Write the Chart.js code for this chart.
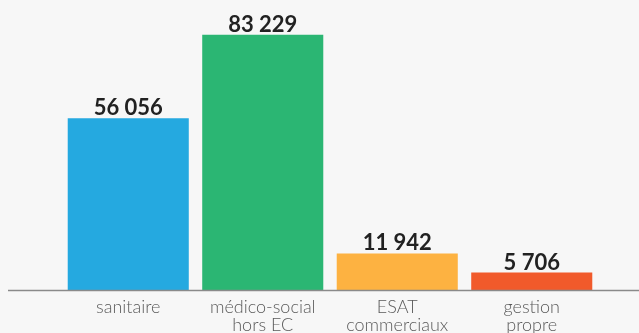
<!DOCTYPE html>
<html>
<head>
<meta charset="utf-8">
<script src="https://cdn.jsdelivr.net/npm/chart.js@4"></script>
<style>
  html, body { margin: 0; padding: 0; background: #f7f7f7; }
  #wrap { width: 639px; height: 333px; position: relative; }
</style>
</head>
<body>
<div id="wrap"><canvas id="chart"></canvas></div>
<script>
// chart data
const categories = [["sanitaire"], ["médico-social", "hors EC"], ["ESAT", "commerciaux"], ["gestion", "propre"]];
const values = [56056, 83229, 11942, 5706];
const barColors = ["#25a9e0", "#2bb673", "#fdb241", "#f15a2b"];

// format 83229 -> "83 229"
function frNumber(n) {
  return String(n).replace(/\B(?=(\d{3})+(?!\d))/g, " ");
}

// draws the value above each bar
const valueLabels = {
  id: "valueLabels",
  afterDatasetsDraw(chart) {
    const ctx = chart.ctx;
    const meta = chart.getDatasetMeta(0);
    ctx.save();
    ctx.font = "bold 22px Lato";
    ctx.fillStyle = "#222222";
    ctx.textAlign = "center";
    ctx.textBaseline = "alphabetic";
    meta.data.forEach((bar, i) => {
      ctx.fillText(frNumber(values[i]), bar.x, bar.y - 3);
    });
    ctx.restore();
  }
};

// baseline running almost the full width
const baseLine = {
  id: "baseLine",
  afterDatasetsDraw(chart) {
    const ctx = chart.ctx;
    const y = Math.round(chart.scales.y.getPixelForValue(0)) + 0.5;
    ctx.save();
    ctx.strokeStyle = "#8a8a8a";
    ctx.lineWidth = 1.5;
    ctx.beginPath();
    ctx.moveTo(8, y);
    ctx.lineTo(chart.width, y);
    ctx.stroke();
    ctx.restore();
  }
};

const ctx = document.getElementById("chart").getContext("2d");
new Chart(ctx, {
  type: "bar",
  data: {
    labels: categories,
    datasets: [{
      data: values,
      backgroundColor: barColors,
      borderWidth: 0,
      barPercentage: 0.9,
      categoryPercentage: 1.0
    }]
  },
  options: {
    responsive: true,
    maintainAspectRatio: false,
    animation: false,
    layout: { padding: { left: 61, right: 40, top: 0, bottom: -9 } },
    plugins: { legend: { display: false }, tooltip: { enabled: false } },
    scales: {
      x: {
        grid: { display: false, drawTicks: false },
        border: { display: false },
        ticks: {
          color: "#5a5a5a",
          padding: 8,
          font: { family: "Lato", size: 18, weight: "300", lineHeight: 1.0 }
        }
      },
      y: {
        display: false,
        min: 0,
        max: 94600
      }
    }
  },
  plugins: [valueLabels, baseLine]
});
</script>
</body>
</html>
